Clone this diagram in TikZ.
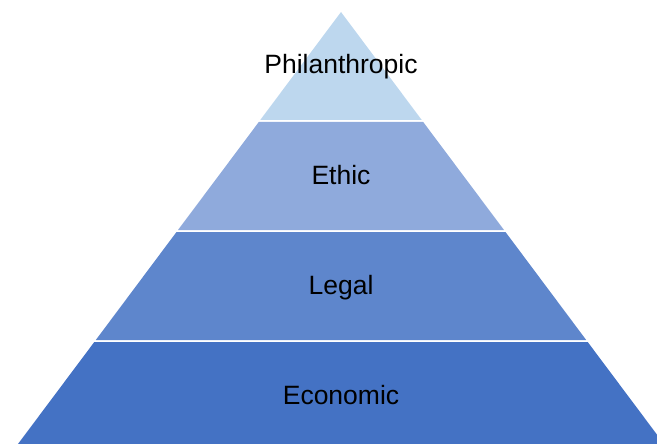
\documentclass[tikz,border=0pt]{standalone}
\usepackage{fontspec}
\setmainfont{Liberation Sans}

\definecolor{tierA}{HTML}{BDD7EE}
\definecolor{tierB}{HTML}{8FAADC}
\definecolor{tierC}{HTML}{5E86CC}
\definecolor{tierD}{HTML}{4472C4}

\begin{document}
\begin{tikzpicture}
  [x=1pt,y=-1pt,every node/.style={anchor=base,font=\fontsize{26.5}{32}\selectfont,text=black}]
  \useasboundingbox (0,0) rectangle (657,444);
  \begin{scope}
    \clip (0,0) rectangle (657,444);
    % tiers, top to bottom
    \fill[tierA] (341,12) -- (421.75,120) -- (260.25,120) -- cycle;
    \fill[tierB] (258.8,122) -- (423.2,122) -- (504,230) -- (178,230) -- cycle;
    \fill[tierC] (176.5,232) -- (505.5,232) -- (586.2,340) -- (95.8,340) -- cycle;
    \fill[tierD] (94.3,342) -- (587.7,342) -- (668.5,450) -- (13.5,450) -- cycle;
  \end{scope}

  \node (phil) at (341,74)  {Philanthropic};
  \node (ethic) at (341,184) {Ethic};
  \node (legal) at (341,294) {Legal};
  \node (econ) at (341,404) {Economic};
\end{tikzpicture}
\end{document}
